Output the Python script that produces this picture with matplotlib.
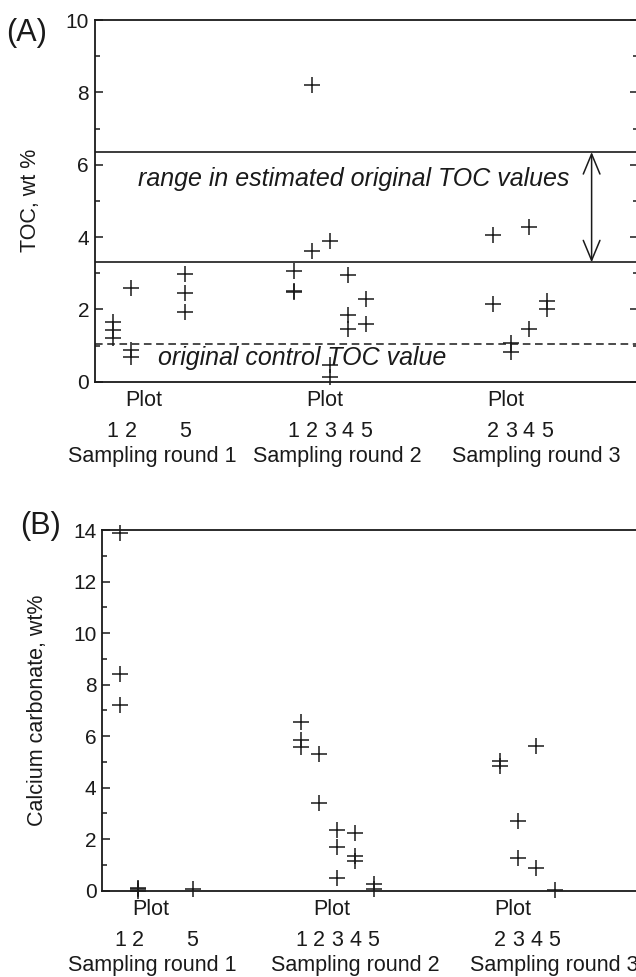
import matplotlib
matplotlib.use("Agg")
import matplotlib.pyplot as plt
from matplotlib.ticker import MultipleLocator

plt.rcParams["font.family"] = ["Liberation Sans", "DejaVu Sans"]

# --- data: (A) TOC ---
toc_round = [1, 1, 1, 1, 1, 1, 1, 1, 1,
             2, 2, 2, 2, 2, 2, 2, 2, 2, 2, 2, 2, 2,
             3, 3, 3, 3, 3, 3, 3, 3]
toc_plot = [1, 1, 1, 2, 2, 2, 5, 5, 5,
            1, 1, 1, 2, 2, 3, 3, 3, 4, 4, 4, 5, 5,
            2, 2, 3, 3, 4, 4, 5, 5]
toc_value = [1.65, 1.42, 1.22, 2.58, 0.88, 0.67, 2.97, 2.45, 1.93,
             3.07, 2.52, 2.47, 8.2, 3.62, 3.9, 0.45, 0.13, 2.94, 1.84, 1.47, 2.3, 1.59,
             4.06, 2.15, 1.07, 0.83, 4.27, 1.47, 2.24, 2.0]

toc_range = [3.3, 6.35]
toc_control = 1.05

# --- data: (B) calcium carbonate ---
caco3_round = [1, 1, 1, 1, 1, 1, 1,
               2, 2, 2, 2, 2, 2, 2, 2, 2, 2, 2, 2, 2,
               3, 3, 3, 3, 3, 3, 3]
caco3_plot = [1, 1, 1, 2, 2, 2, 5,
              1, 1, 1, 2, 2, 3, 3, 3, 4, 4, 4, 5, 5,
              2, 2, 3, 3, 4, 4, 5]
caco3_value = [13.9, 8.4, 7.2, 0.1, 0.05, 0.0, 0.07,
               6.55, 5.86, 5.58, 5.31, 3.42, 2.36, 1.71, 0.48, 2.26, 1.36, 1.16, 0.25, 0.05,
               5.02, 4.83, 2.71, 1.28, 5.63, 0.87, 0.03]

plots_per_round = {1: [1, 2, 5], 2: [1, 2, 3, 4, 5], 3: [2, 3, 4, 5]}
round_names = ["Sampling round 1", "Sampling round 2", "Sampling round 3"]

ink = "#1a1a1a"


def xpos(rounds, plots):
    return [10 * (r - 1) + p for r, p in zip(rounds, plots)]


def style_axis(ax, ymax, right_ticks, round_x):
    ax.set_xlim(0, 30)
    ax.set_ylim(0, ymax)
    ax.spines["right"].set_visible(False)
    ax.yaxis.set_major_locator(MultipleLocator(2))
    ax.yaxis.set_minor_locator(MultipleLocator(1))
    ax.tick_params(axis="y", which="both", direction="in", right=right_ticks,
                   labelsize=15, colors=ink, width=1.1, pad=4)
    ax.tick_params(axis="y", which="major", length=6)
    ax.tick_params(axis="y", which="minor", length=3.6)
    for s in ax.spines.values():
        s.set_linewidth(1.3)
        s.set_color(ink)
    # plot numbers as x tick labels
    ticks, labels = [], []
    for r, pl in plots_per_round.items():
        for p in pl:
            ticks.append(10 * (r - 1) + p)
            labels.append(str(p))
    ax.set_xticks(ticks)
    ax.set_xticklabels(labels)
    ax.tick_params(axis="x", length=0, labelsize=15.5, colors=ink, pad=28.5)
    for r, name, rx in zip(plots_per_round, round_names, round_x):
        ax.annotate("Plot", xy=(10 * (r - 1) + 2.7, 0), xycoords=("data", "axes fraction"),
                    xytext=(0, -13.8), textcoords="offset points",
                    ha="center", va="center", fontsize=15.5, color=ink,
                    annotation_clip=False)
        ax.annotate(name, xy=(rx, 0), xycoords=("data", "axes fraction"),
                    xytext=(0, -54), textcoords="offset points",
                    ha="center", va="center", fontsize=15.5, color=ink,
                    annotation_clip=False)
    ax.yaxis.set_label_coords(-0.099, 0.5)


fig = plt.figure(figsize=(6.36, 9.77), dpi=100)

# (A)
axA = fig.add_axes([0.1487, 0.6093, 0.8538, 0.3702])
style_axis(axA, 10, True, [3.2, 13.4, 24.4])
axA.plot(xpos(toc_round, toc_plot), toc_value, "+", color=ink,
         markersize=12, markeredgewidth=1.1, clip_on=False)
for v in toc_range:
    axA.axhline(v, color=ink, lw=1.2)
axA.axhline(toc_control, color=ink, lw=1.1, linestyle=(0, (5, 3)))
axA.annotate("", xy=(27.46, toc_range[1]), xytext=(27.46, toc_range[0]),
             arrowprops=dict(arrowstyle="<->,head_length=0.72,head_width=0.3",
                             color=ink, lw=1.1, shrinkA=0, shrinkB=0,
                             mutation_scale=20))
axA.text(2.4, 5.6, "range in estimated original TOC values", style="italic",
         fontsize=18, color=ink, ha="left", va="center")
axA.text(3.5, 0.66, "original control TOC value", style="italic",
         fontsize=18, color=ink, ha="left", va="center")
axA.set_ylabel("TOC, wt %", fontsize=15.5, color=ink)
fig.text(0.009, 0.9662, "(A)", fontsize=22, color=ink, ha="left", va="center")

# (B)
axB = fig.add_axes([0.1604, 0.0883, 0.8538, 0.3692])
style_axis(axB, 14, False, [2.8, 14.0, 25.0])
axB.plot(xpos(caco3_round, caco3_plot), caco3_value, "+", color=ink,
         markersize=12, markeredgewidth=1.1, clip_on=False)
axB.set_ylabel("Calcium carbonate, wt%", fontsize=15.5, color=ink)
fig.text(0.031, 0.4616, "(B)", fontsize=22, color=ink, ha="left", va="center")

fig.savefig("out.png", dpi=100)
